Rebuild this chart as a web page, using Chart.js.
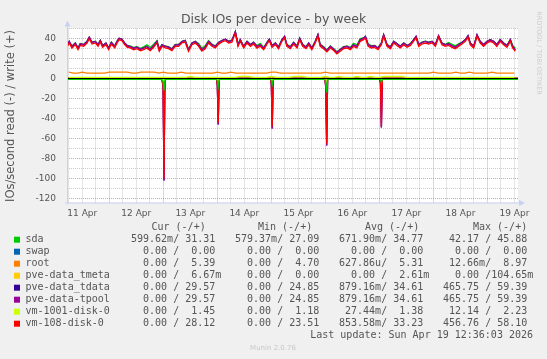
<!DOCTYPE html>
<html>
<head>
<meta charset="utf-8">
<script src="https://cdn.jsdelivr.net/npm/chart.js@4.4.1/dist/chart.umd.min.js"></script>
<style>
  html, body { margin: 0; padding: 0; background: #f0f0f0; }
  canvas { display: block; }
</style>
</head>
<body>
<canvas id="diskChart" width="547" height="359"></canvas>
<script>
/* Disk IOs per device - by week (munin style) */

// x values are hours since 11 Apr 00:00
const xMin = 5.2, xMax = 205.6;
const dayLabels = ['11 Apr', '12 Apr', '13 Apr', '14 Apr', '15 Apr', '16 Apr', '17 Apr', '18 Apr', '19 Apr'];

// sample times for the busy write series
const writeHours = [
  5.2, 6.2, 7.4, 8.9, 10.1, 11.1, 12.6, 14.1, 15.1, 16.3,
  17.8, 19.0, 20.0, 21.0, 22.5, 23.7, 24.9, 26.4, 27.4, 28.4,
  29.6, 30.8, 32.0, 33.3, 34.8, 36.3, 37.8, 39.2, 40.7, 42.2,
  43.7, 45.2, 46.2, 47.4, 48.9, 50.3, 51.8, 53.3, 54.8, 56.3,
  57.7, 59.2, 60.7, 62.2, 63.7, 65.1, 66.6, 68.1, 69.6, 71.1,
  72.6, 74.1, 75.6, 77.0, 78.5, 80.0, 81.2, 82.2, 83.7, 85.2,
  86.7, 88.1, 89.6, 91.1, 92.6, 94.1, 95.1, 96.3, 97.8, 99.2,
  100.7, 101.9, 102.9, 104.4, 105.9, 107.4, 108.6, 109.9, 111.4, 112.6,
  114.0, 115.5, 116.7, 117.7, 119.2, 120.7, 122.2, 123.7, 125.1, 126.6,
  128.1, 129.6, 131.1, 132.5, 134.0, 135.5, 137.0,
  137.8, 139.0, 140.4, 141.9, 143.4, 144.9, 145.9, 147.4, 148.9, 150.4,
  151.8, 153.3, 154.8, 156.3, 157.8, 159.2, 160.3, 161.5, 162.9, 164.4,
  165.9, 167.4, 168.9, 170.3, 171.8, 173.3, 174.8, 176.3, 177.7, 179.2,
  180.7, 182.2, 183.4, 184.4, 185.9, 187.4, 188.8, 190.3, 191.8, 193.3,
  194.8, 196.2, 197.7, 199.2, 200.7, 202.2, 203.2, 204.4
];
const sdaWrite = [
  33.0, 36.6, 32.6, 35.7, 30.9, 34.9, 34.2, 37.2, 41.0, 36.4,
  37.3, 34.2, 38.2, 33.2, 35.6, 30.9, 36.3, 32.5, 37.3, 40.1,
  39.4, 35.7, 33.1, 32.6, 31.0, 31.8, 30.2, 31.7, 33.6, 31.0,
  34.2, 38.0, 30.1, 34.0, 32.5, 31.9, 29.9, 34.1, 34.0, 37.2,
  38.1, 29.3, 35.6, 37.3, 35.0, 30.4, 32.8, 37.9, 34.3, 32.6,
  36.3, 38.2, 39.4, 37.4, 38.3, 46.6, 34.3, 38.9, 32.6, 37.3,
  34.1, 36.4, 32.9, 35.2, 31.0, 36.3, 39.2, 33.2, 35.6, 31.9,
  38.9, 41.8, 34.1, 31.9, 36.3, 32.6, 40.2, 34.1, 31.9, 35.6,
  30.9, 37.3, 43.4, 34.1, 31.9, 28.6, 32.5, 29.9, 26.7, 29.2,
  31.8, 32.5, 31.0, 35.1, 33.6, 39.8, 40.5,
  41.9, 34.6, 32.9, 33.1, 30.8, 35.6, 43.4, 34.1, 31.9, 37.3,
  35.0, 32.6, 35.6, 33.2, 35.0, 38.8, 41.9, 34.1, 36.3, 37.3,
  36.3, 37.2, 34.1, 42.5, 35.6, 34.2, 35.9, 34.1, 32.8, 34.7,
  36.3, 38.9, 42.5, 35.6, 32.6, 43.5, 37.3, 34.1, 37.3, 38.9,
  37.3, 34.1, 38.9, 35.7, 33.4, 39.3, 33.3, 30.2
];
const tpoolWrite = [
  32.7, 37.0, 32.0, 35.3, 30.3, 34.7, 33.7, 37.0, 41.3, 36.0,
  37.0, 33.7, 38.0, 32.7, 35.3, 30.3, 36.0, 32.0, 37.0, 40.3,
  39.3, 35.3, 32.7, 32.0, 30.3, 31.3, 29.3, 30.3, 32.0, 29.3,
  32.7, 37.0, 28.7, 33.7, 32.0, 31.3, 29.3, 33.7, 33.7, 37.0,
  38.0, 28.7, 35.3, 37.0, 33.7, 28.7, 31.3, 37.0, 33.7, 32.0,
  36.0, 38.0, 39.3, 37.0, 38.0, 47.0, 33.7, 38.7, 32.0, 37.0,
  33.7, 36.0, 32.0, 33.7, 30.3, 36.0, 39.3, 32.7, 35.3, 31.3,
  38.7, 42.0, 33.7, 31.3, 36.0, 32.0, 40.3, 33.7, 31.3, 35.3,
  30.3, 37.0, 43.7, 33.7, 31.3, 28.0, 32.0, 29.3, 26.0, 28.7,
  31.3, 32.0, 30.3, 33.7, 32.0, 38.7, 40.3,
  42.0, 33.7, 32.0, 32.7, 30.3, 35.3, 43.7, 33.7, 31.3, 37.0,
  34.7, 32.0, 35.3, 32.7, 34.7, 38.7, 42.0, 33.7, 36.0, 37.0,
  36.0, 37.0, 33.7, 42.7, 35.3, 33.7, 34.7, 32.7, 31.3, 33.7,
  36.0, 38.7, 42.7, 35.3, 32.0, 43.7, 37.0, 33.7, 37.0, 38.7,
  37.0, 33.7, 38.7, 35.3, 32.7, 38.7, 32.0, 28.7
];
const vm108Write = [
  31.2, 35.6, 30.4, 33.9, 28.8, 33.1, 32.3, 35.4, 39.9, 34.5,
  35.6, 32.1, 36.5, 31.3, 33.7, 28.9, 34.4, 30.6, 35.4, 38.9,
  37.8, 33.9, 31.1, 30.6, 28.7, 29.9, 27.8, 28.9, 30.3, 27.9,
  31.2, 35.6, 27.2, 32.1, 30.6, 29.8, 27.9, 32.2, 32.1, 35.6,
  36.5, 27.2, 33.8, 35.4, 32.2, 27.3, 29.7, 35.5, 32.2, 30.5,
  34.4, 36.6, 37.8, 35.5, 36.4, 45.6, 32.1, 37.2, 30.6, 35.4,
  32.2, 34.5, 30.4, 32.2, 28.8, 34.5, 37.8, 31.1, 33.9, 29.8,
  37.2, 40.6, 32.1, 29.8, 34.5, 30.5, 38.8, 32.2, 29.9, 33.7,
  28.8, 35.5, 42.3, 32.1, 29.8, 26.6, 30.4, 27.9, 24.6, 27.2,
  29.8, 30.5, 28.9, 32.1, 30.5, 37.2, 38.8,
  40.6, 32.2, 30.5, 31.1, 28.8, 33.8, 42.2, 32.2, 29.8, 35.5,
  33.1, 30.5, 33.8, 31.2, 33.1, 37.2, 40.6, 32.1, 34.5, 35.4,
  34.5, 35.6, 32.1, 41.2, 33.8, 32.2, 33.1, 31.2, 29.8, 32.1,
  34.5, 37.2, 41.2, 33.7, 30.5, 42.2, 35.5, 32.2, 35.4, 37.2,
  35.5, 32.1, 37.1, 33.8, 31.2, 37.1, 30.5, 27.1
];

// small write series, one value every 2 hours from 06:00 on 11 Apr
const slowStart = 6, slowStep = 2;
const rootWrite = [
  6.3, 5.3, 5.3, 6.3, 5.3, 5.3, 5.3, 5.3, 5.3, 6.3,
  6.3, 6.3, 6.3, 6.3, 5.3, 5.3, 6.3, 6.3, 6.3, 6.3,
  5.3, 6.3, 5.3, 5.3, 5.3, 6.3, 5.3, 5.3, 5.3, 5.3,
  5.3, 5.3, 5.3, 6.3, 5.3, 5.3, 6.3, 5.3, 5.3, 5.3,
  5.3, 5.3, 5.3, 5.3, 5.3, 6.3, 6.3, 5.3, 5.3, 5.3,
  5.3, 5.3, 5.3, 5.3, 5.3, 5.3, 5.3, 6.3, 5.3, 5.3,
  5.3, 5.3, 5.3, 5.3, 5.3, 5.3, 5.3, 5.3, 5.3, 5.3,
  5.3, 5.3, 5.3, 5.3, 5.3, 5.3, 5.3, 5.3, 5.3, 5.3,
  5.3, 6.3, 5.3, 5.3, 5.3, 5.3, 6.3, 5.3, 5.3, 6.3,
  5.3, 5.3, 5.3, 5.3, 6.3, 5.3, 5.3, 5.3, 5.3, 5.3
];
const vm1001Write = [
  1.2, 1.2, 1.2, 1.2, 1.2, 1.2, 1.2, 1.2, 1.2, 1.2,
  1.2, 1.2, 1.2, 1.2, 1.2, 1.2, 1.2, 1.2, 1.2, 1.2,
  1.2, 1.2, 1.2, 1.2, 1.2, 1.2, 1.2, 2.1, 1.2, 1.2,
  1.2, 1.2, 1.2, 1.2, 1.2, 1.2, 1.2, 1.2, 2.1, 2.1,
  2.1, 1.2, 1.2, 1.2, 1.2, 2.1, 1.2, 1.2, 1.2, 1.2,
  2.1, 2.1, 2.1, 1.2, 1.2, 1.2, 1.2, 2.1, 1.2, 1.2,
  2.1, 1.2, 1.2, 1.2, 2.1, 1.2, 1.2, 2.1, 1.2, 1.2,
  2.1, 2.1, 2.1, 2.1, 2.1, 1.2, 1.2, 1.2, 1.2, 1.2,
  1.2, 1.2, 1.2, 1.2, 1.2, 1.2, 1.2, 1.2, 1.2, 1.2,
  1.2, 1.2, 1.2, 1.2, 1.2, 1.2, 1.2, 1.2, 1.2, 1.2
];

// read (-) series: flat except the nightly spikes around midnight
const readHours = [0, 47.4, 47.9, 48.3, 48.7, 71.6, 72.0, 72.4, 72.8, 95.6, 96.0, 96.4, 96.8,
                   119.8, 120.2, 120.6, 121.0, 144.1, 144.5, 144.9, 145.3, 210];
const sdaRead    = [-0.9, -0.9, -3, -12, -0.9, -0.9, -2, -8, -0.9, -0.9, -2, -6, -0.9, -0.9, -3, -14, -0.9, -0.9, -1, -4, -0.9, -0.9];
const tpoolRead  = [0, 0, -9, -102, 0, 0, -7, -46, 0, 0, -6, -50, 0, 0, -9, -67, 0, 0, -5, -49, 0, 0];
const vm1001Read = [0, 0, -1, -5, 0, 0, -1, -3, 0, 0, 0, -3, 0, 0, -2, -6, 0, 0, 0, -2, 0, 0];
const vm108Read  = [0, 0, -8, -100, 0, 0, -6, -44, 0, 0, -5, -48, 0, 0, -8, -65, 0, 0, -4, -48, 0, 0];
const flatHours = [0, 210];
const flatZero = [0, 0];

// legend table
const names = ['sda', 'swap', 'root', 'pve-data_tmeta', 'pve-data_tdata', 'pve-data-tpool', 'vm-1001-disk-0', 'vm-108-disk-0'];
const colors = ['#00CC00', '#0066B3', '#FF8000', '#FFCC00', '#330099', '#990099', '#CCFF00', '#FF0000'];
const curText = ['599.62m/ 31.31', '  0.00 /  0.00', '  0.00 /  5.39', '  0.00 /  6.67m', '  0.00 / 29.57', '  0.00 / 29.57', '  0.00 /  1.45', '  0.00 / 28.12'];
const minText = ['579.37m/ 27.09', '  0.00 /  0.00', '  0.00 /  4.70', '  0.00 /  0.00', '  0.00 / 24.85', '  0.00 / 24.85', '  0.00 /  1.18', '  0.00 / 23.51'];
const avgText = ['671.90m/ 34.77', '  0.00 /  0.00', '627.86u/  5.31', '  0.00 /  2.61m', '879.16m/ 34.61', '879.16m/ 34.61', ' 27.44m/  1.38', '853.58m/ 33.23'];
const maxText = [' 42.17 / 45.88', '  0.00 /  0.00', ' 12.66m/  8.97', '  0.00 /104.65m', '465.75 / 59.39', '465.75 / 59.39', ' 12.14 /  2.23', '456.76 / 58.10'];

const slowHours = rootWrite.map((_, i) => slowStart + i * slowStep);
const xy = (hours, values) => values.map((v, i) => ({ x: hours[i], y: v }));

const MAJOR = 'rgba(215,80,80,0.55)';
const MINOR = 'rgba(140,140,140,0.45)';
const AXIS = '#C8D0F4';
const TEXT = '#555555';

// writes drawn with vm-108 on top, reads with sda on top (lower order = on top)
const seriesDefs = [
  { i: 0, write: xy(writeHours, sdaWrite),    read: xy(readHours, sdaRead),    wo: 7, ro: 0 },
  { i: 1, write: xy(flatHours, flatZero),     read: xy(flatHours, flatZero),   wo: 6, ro: 7 },
  { i: 2, write: xy(slowHours, rootWrite),    read: xy(flatHours, flatZero),   wo: 5, ro: 6 },
  { i: 3, write: xy(flatHours, flatZero),     read: xy(flatHours, flatZero),   wo: 4, ro: 5 },
  { i: 4, write: xy(writeHours, tpoolWrite),  read: xy(readHours, tpoolRead),  wo: 3, ro: 4 },
  { i: 5, write: xy(writeHours, tpoolWrite),  read: xy(readHours, tpoolRead),  wo: 2, ro: 3 },
  { i: 6, write: xy(slowHours, vm1001Write),  read: xy(readHours, vm1001Read), wo: 1, ro: 1 },
  { i: 7, write: xy(writeHours, vm108Write),  read: xy(readHours, vm108Read),  wo: 0, ro: 2 }
];

const datasets = [];
seriesDefs.forEach(s => {
  const base = { borderColor: colors[s.i], backgroundColor: colors[s.i], borderWidth: 1.3, pointRadius: 0, tension: 0, fill: false };
  datasets.push(Object.assign({ label: names[s.i] + ' write', data: s.write, order: s.wo }, base));
  datasets.push(Object.assign({ label: names[s.i] + ' read', data: s.read, order: s.ro }, base));
});

const xTicks = [];
for (let h = 6; h <= 204; h += 6) xTicks.push(h);
const yTicks = [];
for (let v = -120; v <= 50; v += 10) yTicks.push(v);

const muninPlugin = {
  id: 'munin',
  beforeDraw(chart) {
    const { ctx, chartArea: a } = chart;
    ctx.save();
    ctx.fillStyle = '#f0f0f0';
    ctx.fillRect(0, 0, chart.width, chart.height);
    ctx.fillStyle = '#ffffff';
    ctx.fillRect(a.left, a.top, a.right - a.left, a.bottom - a.top);
    ctx.restore();
  },
  afterDatasetsDraw(chart) {
    // zero rule
    const { ctx, chartArea: a } = chart;
    const y0 = chart.scales.y.getPixelForValue(0);
    ctx.save();
    ctx.strokeStyle = '#000000';
    ctx.lineWidth = 1;
    ctx.beginPath();
    ctx.moveTo(a.left, y0);
    ctx.lineTo(a.right, y0);
    ctx.stroke();
    ctx.restore();
  },
  afterDraw(chart) {
    const { ctx, chartArea: a } = chart;
    ctx.save();

    // axes with arrows
    ctx.strokeStyle = AXIS;
    ctx.fillStyle = AXIS;
    ctx.lineWidth = 1;
    ctx.beginPath();
    ctx.moveTo(a.left + 0.5, a.bottom + 2);
    ctx.lineTo(a.left + 0.5, a.top - 4);
    ctx.moveTo(a.left - 2, a.bottom + 0.5);
    ctx.lineTo(a.right + 2, a.bottom + 0.5);
    ctx.stroke();
    ctx.beginPath();
    ctx.moveTo(a.left + 0.5, a.top - 8);
    ctx.lineTo(a.left - 2.5, a.top - 2);
    ctx.lineTo(a.left + 3.5, a.top - 2);
    ctx.closePath();
    ctx.fill();
    ctx.beginPath();
    ctx.moveTo(a.right + 7, a.bottom + 0.5);
    ctx.lineTo(a.right + 1, a.bottom - 2.5);
    ctx.lineTo(a.right + 1, a.bottom + 3.5);
    ctx.closePath();
    ctx.fill();

    // title
    ctx.fillStyle = TEXT;
    ctx.textAlign = 'center';
    ctx.textBaseline = 'middle';
    ctx.font = '12.5px "DejaVu Sans"';
    ctx.fillText('Disk IOs per device - by week', 273.5, 19.5);

    // vertical unit label
    ctx.save();
    ctx.translate(11, 116);
    ctx.rotate(-Math.PI / 2);
    ctx.font = '11.5px "DejaVu Sans"';
    ctx.fillText('IOs/second read (-) / write (+)', 0, 0);
    ctx.restore();

    // watermark on the right
    ctx.save();
    ctx.translate(538.5, 53);
    ctx.rotate(Math.PI / 2);
    ctx.fillStyle = '#cccccc';
    ctx.font = '6.5px "DejaVu Sans"';
    ctx.fillText('RRDTOOL / TOBI OETIKER', 0, 0);
    ctx.restore();

    // legend table
    ctx.font = '10px "DejaVu Sans Mono"';
    ctx.textAlign = 'left';
    ctx.fillStyle = TEXT;
    ctx.fillText('Cur (-/+)', 151.5, 227.7);
    ctx.fillText('Min (-/+)', 258, 227.7);
    ctx.fillText('Avg (-/+)', 365, 227.7);
    ctx.fillText('Max (-/+)', 473, 227.7);
    names.forEach((n, i) => {
      const y = 239.7 + i * 12;
      ctx.fillStyle = colors[i];
      ctx.fillRect(14, y - 3, 6, 6);
      ctx.fillStyle = TEXT;
      ctx.fillText(n, 25.5, y);
      ctx.fillText(curText[i], 131, y);
      ctx.fillText(minText[i], 235, y);
      ctx.fillText(avgText[i], 339, y);
      ctx.fillText(maxText[i], 443, y);
    });
    ctx.textAlign = 'right';
    ctx.fillText('Last update: Sun Apr 19 12:36:03 2026', 533, 335);

    ctx.textAlign = 'center';
    ctx.fillStyle = '#c8c8c8';
    ctx.font = '7px "DejaVu Sans"';
    ctx.fillText('Munin 2.0.76', 273, 348.5);
    ctx.restore();
  }
};

new Chart(document.getElementById('diskChart'), {
  type: 'line',
  data: { datasets },
  plugins: [muninPlugin],
  options: {
    responsive: false,
    animation: false,
    layout: { padding: { left: 0, top: 28.5, right: 29, bottom: 136.5 } },
    plugins: { legend: { display: false }, tooltip: { enabled: false }, title: { display: false } },
    scales: {
      x: {
        type: 'linear',
        min: xMin, max: xMax,
        afterBuildTicks: axis => { axis.ticks = xTicks.map(v => ({ value: v })); },
        afterFit: axis => { axis.height = 20; },
        ticks: {
          autoSkip: false, maxRotation: 0, padding: 6,
          color: TEXT, font: { family: 'DejaVu Sans', size: 9 },
          callback: v => (v % 24 === 12 ? dayLabels[Math.floor(v / 24)] : '')
        },
        grid: {
          drawTicks: false, lineWidth: 1,
          color: c => (c.tick && c.tick.value % 24 === 0 ? MAJOR : MINOR)
        },
        border: { display: false, dash: [1, 1] }
      },
      y: {
        type: 'linear',
        min: -124, max: 50,
        afterBuildTicks: axis => { axis.ticks = yTicks.map(v => ({ value: v })); },
        afterFit: axis => { axis.width = 67; },
        ticks: {
          autoSkip: false, padding: 11,
          color: TEXT, font: { family: 'DejaVu Sans', size: 9 },
          callback: v => (v % 20 === 0 ? String(v) : '')
        },
        grid: {
          drawTicks: false, lineWidth: 1,
          color: c => (c.tick && c.tick.value % 20 === 0 ? MAJOR : MINOR)
        },
        border: { display: false, dash: [1, 1] }
      }
    }
  }
});
</script>
</body>
</html>
